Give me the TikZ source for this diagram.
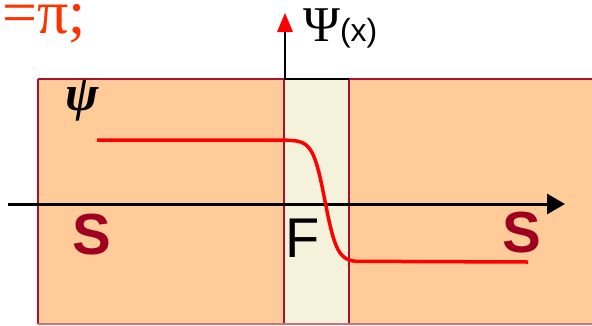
\documentclass[tikz,border=0pt]{standalone}
\usepackage{fontspec}
\setmainfont{Liberation Serif}
\setsansfont{Liberation Sans}
\usetikzlibrary{arrows.meta}
\definecolor{peach}{HTML}{FFCC99}
\definecolor{cream}{HTML}{F5F2DC}
\definecolor{border}{HTML}{A8122E}
\definecolor{sred}{HTML}{A00020}
\definecolor{topred}{HTML}{FF3300}
\tikzset{
  edge/.style={draw=border, line width=1.6pt},
  slabel/.style={text=sred, font=\sffamily\bfseries\fontsize{58}{58}\selectfont, inner sep=0pt},
  flabel/.style={text=black, font=\sffamily\fontsize{56}{56}\selectfont, inner sep=0pt},
  wave/.style={draw=red, line width=3.5pt},
  axis/.style={draw=black, line width=3pt},
}
\begin{document}
\begin{tikzpicture}[x=1pt,y=-1pt]
\useasboundingbox (0,0) rectangle (592,325);
\clip (0,0) rectangle (592,325);
% regions
\fill[peach] (38,79) rectangle (600,324);
\fill[cream] (284,79) rectangle (349,324);
% borders
\draw[edge] (38,79) -- (600,79);
\draw[edge] (38,79) -- (38,324);
\draw[edge] (284,79) -- (284,324);
\draw[edge] (349,79) -- (349,324);
\draw[draw=border!60, line width=1.2pt] (38,324) -- (600,324);
\draw[draw=black, line width=1.6pt] (284,79) -- (349,79);
% vertical axis
\coordinate (vbot) at (285,79);
\coordinate (vtop) at (285,13);
\draw[draw=black, line width=2pt] (vbot) -- (285,30);
\fill[red] (vtop) -- (277,32) -- (293,32) -- cycle;
\node[anchor=base west, inner sep=0pt, font=\fontsize{50}{50}\selectfont] (psix) at (303,41) {Ψ{\sffamily\fontsize{32}{32}\selectfont(x)}};
% horizontal axis
\coordinate (hl) at (8,204);
\coordinate (hr) at (565,204);
\draw[axis, -{Triangle[length=18pt,width=20pt]}] (hl) -- (hr);
% wave function
\draw[wave, line join=round] (97,140) -- (284,140)
  -- plot[domain=284:356, samples=70, smooth] (\x,{201+61*tanh((\x-325)/12)})
  -- (528,262);
% labels
\node[anchor=center, inner sep=0pt, font=\bfseries\itshape\fontsize{50}{50}\selectfont] (psi) at (82,101) {ψ};
\node[slabel] (s1) at (92,235) {S};
\node[slabel] (s2) at (522,233) {S};
\node[flabel] (f) at (303,238) {F};
\node[anchor=base west, inner sep=0pt, text=topred, font=\fontsize{62}{62}\selectfont] (eq) at (2,33) {=π;};
\end{tikzpicture}
\end{document}
